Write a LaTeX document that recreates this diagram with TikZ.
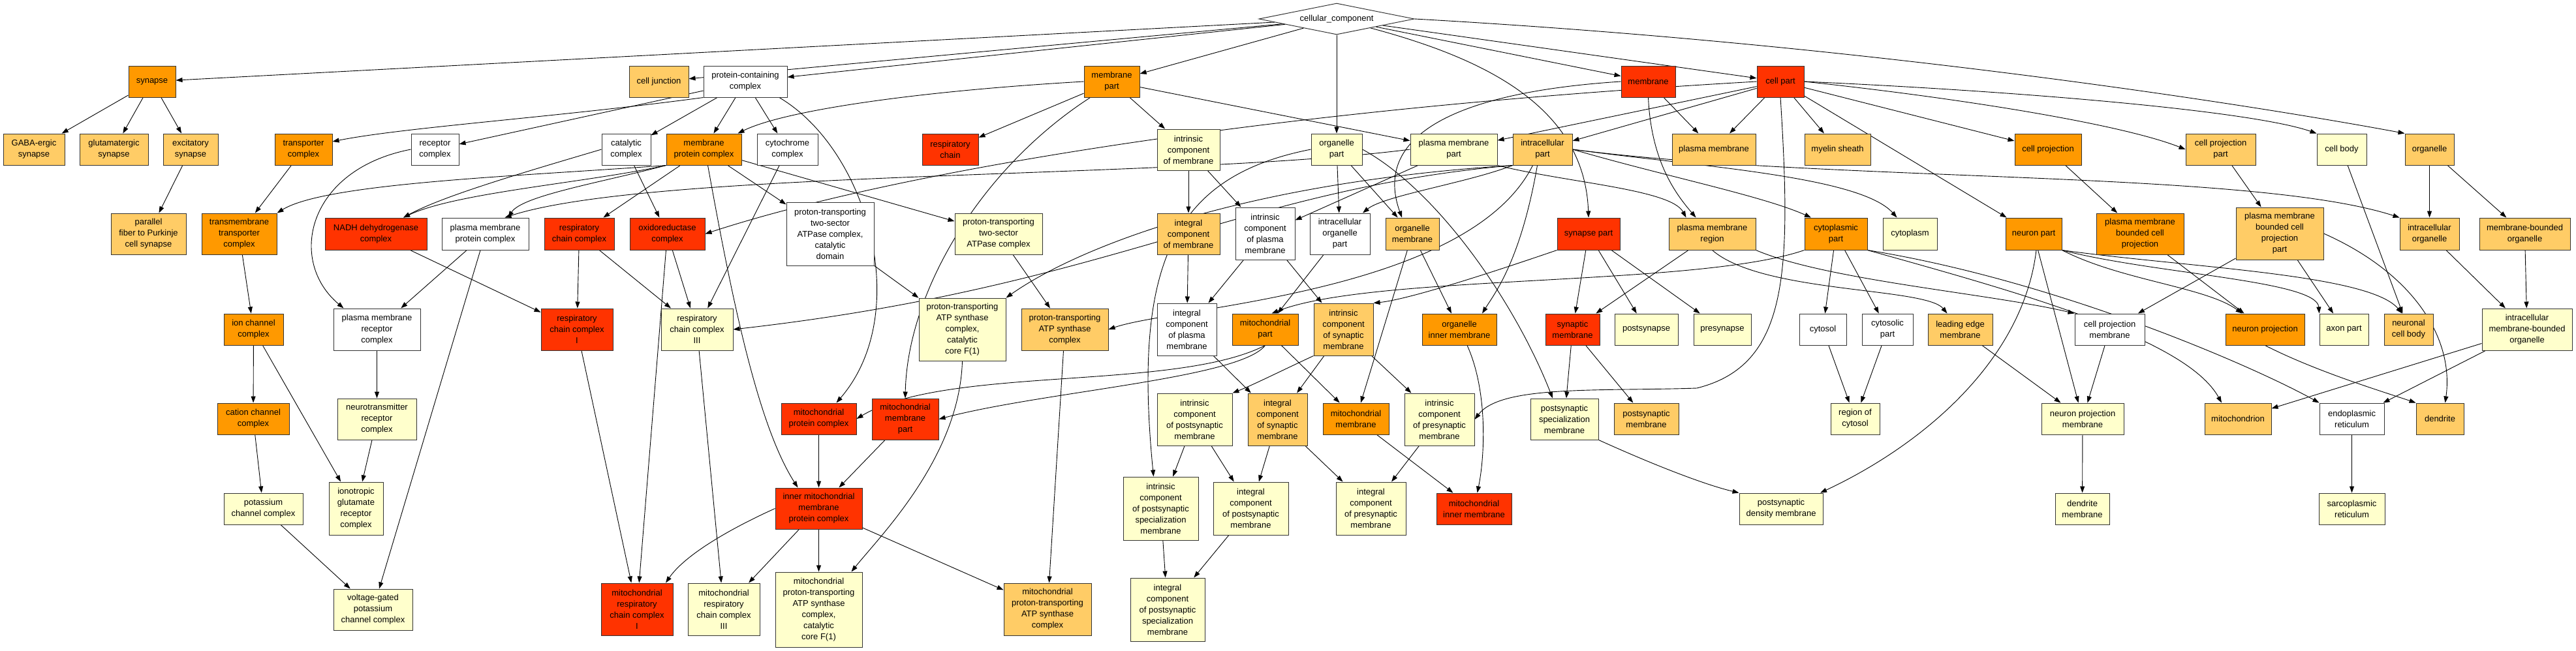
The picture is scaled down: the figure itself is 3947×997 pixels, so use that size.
\documentclass[tikz,border=0pt]{standalone}
\usepackage{fontspec}
\setmainfont{Liberation Sans}
\usetikzlibrary{arrows.meta,shapes.geometric}
\pgfdeclarelayer{bg}
\pgfsetlayers{bg,main}
\definecolor{cR}{HTML}{FF3300}
\definecolor{cO}{HTML}{FF9900}
\definecolor{cL}{HTML}{FFCC66}
\definecolor{cY}{HTML}{FFFFCC}
\definecolor{cW}{HTML}{FFFFFF}
\definecolor{bord}{HTML}{333333}
\tikzset{
  gobox/.style={draw=bord, line width=1pt, rectangle, inner sep=1pt, align=center, text=black},
  gedge/.style={draw=black, line width=0.9pt, -{Triangle[length=10pt,width=7pt]}}
}
\newcommand{\gn}[7]{\node[gobox,fill=#6,minimum width=#4pt,minimum height=#5pt] (#1) at (#2,-#3) {#7};}
\newcommand{\ed}[2]{\draw[gedge] (#1) -- (#2);}
\begin{document}
\begin{tikzpicture}[x=1pt,y=1pt,font=\fontsize{13pt}{17pt}\selectfont]
\useasboundingbox (0,0) rectangle (3947,-997);
\begin{pgfonlayer}{bg}
\fill[white] (0,0) rectangle (3947,-997);
\end{pgfonlayer}
\node[draw=bord, line width=1pt, fill=white, diamond, aspect=4.96, minimum width=238pt, minimum height=48pt, inner sep=0pt] (cc) at (2048,-29) {cellular\_component};
% level 1
\gn{synapse}{233}{125}{72}{48}{cO}{synapse}
\gn{celljunction}{1009.5}{125}{91}{48}{cL}{cell junction}
\gn{pcc}{1142}{125}{128}{48}{cW}{protein-containing\\complex}
\gn{membranepart}{1703.5}{125}{85}{48}{cO}{membrane\\part}
\gn{membrane}{2525.5}{125}{83}{48}{cR}{membrane}
\gn{cellpart}{2728}{125}{72}{48}{cR}{cell part}
% level 2
\gn{gaba}{52}{229}{94}{48}{cL}{GABA-ergic\\synapse}
\gn{glut}{174.5}{229}{105}{48}{cL}{glutamatergic\\synapse}
\gn{excit}{292}{229}{84}{48}{cL}{excitatory\\synapse}
\gn{transporter}{465}{229}{88}{48}{cO}{transporter\\complex}
\gn{receptor}{666.5}{229}{73}{48}{cW}{receptor\\complex}
\gn{catalytic}{959.5}{229}{75}{48}{cW}{catalytic\\complex}
\gn{mpc}{1078.5}{229}{115}{48}{cO}{membrane\\protein complex}
\gn{cytochrome}{1206.5}{229}{93}{48}{cW}{cytochrome\\complex}
\gn{respchain}{1456}{229}{86}{48}{cR}{respiratory\\chain}
\gn{icm}{1821}{229.5}{96}{63}{cY}{intrinsic\\component\\of membrane}
\gn{organellepart}{2048}{229}{78}{48}{cY}{organelle\\part}
\gn{pmpart}{2227.5}{229}{133}{48}{cY}{plasma membrane\\part}
\gn{intracellularpart}{2363.5}{229}{91}{48}{cL}{intracellular\\part}
\gn{plasmamembrane}{2626}{229}{128}{48}{cL}{plasma membrane}
\gn{myelin}{2815.5}{229}{101}{48}{cL}{myelin sheath}
\gn{cellprojection}{3138}{229}{102}{48}{cO}{cell projection}
\gn{cellprojpart}{3402.5}{229}{107}{48}{cL}{cell projection\\part}
\gn{cellbody}{3588}{229}{76}{48}{cY}{cell body}
\gn{organelle}{3722.5}{229}{75}{48}{cL}{organelle}
% level 3
\gn{parallel}{227.5}{358.5}{115}{63}{cL}{parallel\\fiber to Purkinje\\cell synapse}
\gn{tmtc}{366.5}{358.5}{115}{63}{cO}{transmembrane\\transporter\\complex}
\gn{nadh}{576}{358.5}{156}{49}{cR}{NADH dehydrogenase\\complex}
\gn{pmpc}{743.5}{358.5}{133}{49}{cW}{plasma membrane\\protein complex}
\gn{rcc}{887.5}{358.5}{107}{49}{cR}{respiratory\\chain complex}
\gn{oxido}{1022.5}{358.5}{115}{49}{cR}{oxidoreductase\\complex}
\gn{catdomain}{1272}{358.5}{134}{97}{cW}{proton-transporting\\two-sector\\ATPase complex,\\catalytic\\domain}
\gn{pt2s}{1530}{358.5}{134}{63}{cY}{proton-transporting\\two-sector\\ATPase complex}
\gn{intcm}{1821}{358.5}{96}{63}{cL}{integral\\component\\of membrane}
\gn{icpm}{1938.5}{358}{91}{80}{cW}{intrinsic\\component\\of plasma\\membrane}
\gn{iop}{2053}{358.5}{92}{63}{cW}{intracellular\\organelle\\part}
\gn{orgmem}{2164}{358.5}{82}{49}{cL}{organelle\\membrane}
\gn{synpart}{2434}{358.5}{96}{49}{cR}{synapse part}
\gn{pmregion}{2623.5}{358.5}{133}{49}{cL}{plasma membrane\\region}
\gn{cytoplasmicpart}{2813}{358.5}{96}{49}{cO}{cytoplasmic\\part}
\gn{cytoplasm}{2926.5}{358.5}{83}{49}{cY}{cytoplasm}
\gn{neuronpart}{3116}{358.5}{86}{49}{cO}{neuron part}
\gn{pmbcp}{3279}{358.5}{134}{63}{cO}{plasma membrane\\bounded cell\\projection}
\gn{pmbcppart}{3493}{358}{134}{80}{cL}{plasma membrane\\bounded cell\\projection\\part}
\gn{introrg}{3722.5}{358.5}{91}{49}{cL}{intracellular\\organelle}
\gn{mbo}{3868.5}{358.5}{139}{49}{cL}{membrane-bounded\\organelle}
% level 4
\gn{ionchannel}{388.5}{505}{91}{48}{cO}{ion channel\\complex}
\gn{pmrc}{577.5}{505}{133}{64}{cW}{plasma membrane\\receptor\\complex}
\gn{rcc1}{884}{505}{110}{64}{cR}{respiratory\\chain complex\\I}
\gn{rcc3}{1068}{505}{110}{64}{cY}{respiratory\\chain complex\\III}
\gn{f1core}{1474.5}{505}{133}{96}{cY}{proton-transporting\\ATP synthase\\complex,\\catalytic\\core F(1)}
\gn{ptatp}{1631.5}{505}{133}{64}{cL}{proton-transporting\\ATP synthase\\complex}
\gn{intcpm}{1818.5}{505}{91}{80}{cW}{integral\\component\\of plasma\\membrane}
\gn{mitopart}{1938.5}{505}{101}{48}{cO}{mitochondrial\\part}
\gn{icsm}{2058.5}{505}{91}{80}{cL}{intrinsic\\component\\of synaptic\\membrane}
\gn{oim}{2236}{505}{114}{48}{cO}{organelle\\inner membrane}
\gn{synmem}{2409.5}{505}{83}{48}{cR}{synaptic\\membrane}
\gn{postsynapse}{2522.5}{505}{97}{48}{cY}{postsynapse}
\gn{presynapse}{2639}{505}{88}{48}{cY}{presynapse}
\gn{cytosol}{2793}{505}{72}{48}{cW}{cytosol}
\gn{cytosolicpart}{2892}{505}{78}{48}{cW}{cytosolic\\part}
\gn{leadingedge}{3003.5}{505}{99}{48}{cL}{leading edge\\membrane}
\gn{cpm}{3232.5}{505}{107}{48}{cW}{cell projection\\membrane}
\gn{neuronproj}{3470.5}{505}{121}{48}{cO}{neuron projection}
\gn{axonpart}{3591.5}{505}{75}{48}{cY}{axon part}
\gn{ncb}{3690.5}{505}{75}{48}{cL}{neuronal\\cell body}
\gn{imbo}{3872}{505}{138}{64}{cY}{intracellular\\membrane-bounded\\organelle}
% level 5
\gn{cationchannel}{388}{642}{110}{48}{cO}{cation channel\\complex}
\gn{ntrc}{577.5}{642.5}{121}{63}{cY}{neurotransmitter\\receptor\\complex}
\gn{mitoprotcomplex}{1254.5}{642}{115}{48}{cR}{mitochondrial\\protein complex}
\gn{mitomempart}{1387}{642.5}{102}{63}{cR}{mitochondrial\\membrane\\part}
\gn{icpostm}{1830.5}{643}{115}{80}{cY}{intrinsic\\component\\of postsynaptic\\membrane}
\gn{intcsm}{1957.5}{643}{91}{80}{cL}{integral\\component\\of synaptic\\membrane}
\gn{mitomem}{2077.5}{642}{101}{48}{cO}{mitochondrial\\membrane}
\gn{icprem}{2205.5}{643}{107}{80}{cY}{intrinsic\\component\\of presynaptic\\membrane}
\gn{psm}{2397}{642.5}{104}{63}{cY}{postsynaptic\\specialization\\membrane}
\gn{postsynmem}{2522.5}{642}{99}{48}{cL}{postsynaptic\\membrane}
\gn{regioncytosol}{2842.5}{642}{75}{48}{cY}{region of\\cytosol}
\gn{npm}{3191}{642}{126}{48}{cY}{neuron projection\\membrane}
\gn{mitochondrion}{3429}{642}{102}{48}{cL}{mitochondrion}
\gn{er}{3603.5}{642}{99}{48}{cW}{endoplasmic\\reticulum}
\gn{dendrite}{3738.5}{642}{73}{48}{cL}{dendrite}
% level 6
\gn{potassium}{403.5}{780}{121}{48}{cY}{potassium\\channel complex}
\gn{ionotropic}{545.5}{779.5}{83}{81}{cY}{ionotropic\\glutamate\\receptor\\complex}
\gn{immpc}{1254.5}{779.5}{133}{63}{cR}{inner mitochondrial\\membrane\\protein complex}
\gn{icpssm}{1778.5}{779.5}{115}{97}{cY}{intrinsic\\component\\of postsynaptic\\specialization\\membrane}
\gn{intcpostm}{1916.5}{779.5}{115}{81}{cY}{integral\\component\\of postsynaptic\\membrane}
\gn{intcprem}{2100.5}{779.5}{107}{81}{cY}{integral\\component\\of presynaptic\\membrane}
\gn{mim}{2258.5}{780}{115}{48}{cR}{mitochondrial\\inner membrane}
\gn{psdm}{2729}{780}{128}{48}{cY}{postsynaptic\\density membrane}
\gn{dendritemem}{3190.5}{780}{83}{48}{cY}{dendrite\\membrane}
\gn{sarco}{3603.5}{780}{101}{48}{cY}{sarcoplasmic\\reticulum}
% level 7
\gn{vgkc}{571.5}{934.5}{121}{63}{cY}{voltage-gated\\potassium\\channel complex}
\gn{mrcc1}{976}{934}{110}{80}{cR}{mitochondrial\\respiratory\\chain complex\\I}
\gn{mrcc3}{1109}{934}{110}{80}{cY}{mitochondrial\\respiratory\\chain complex\\III}
\gn{mf1}{1254.5}{934.5}{133}{115}{cY}{mitochondrial\\proton-transporting\\ATP synthase\\complex,\\catalytic\\core F(1)}
\gn{mptatp}{1605}{934}{134}{80}{cL}{mitochondrial\\proton-transporting\\ATP synthase\\complex}
\gn{intcpssm}{1789}{934.5}{114}{97}{cY}{integral\\component\\of postsynaptic\\specialization\\membrane}

\begin{pgfonlayer}{bg}
% straight edges
\ed{cc}{synapse}\ed{cc}{celljunction}\ed{cc}{pcc}\ed{cc}{membranepart}\ed{cc}{organellepart}\ed{cc}{membrane}\ed{cc}{cellpart}
\ed{synapse}{gaba}\ed{synapse}{glut}\ed{synapse}{excit}\ed{excit}{parallel}
\ed{pcc}{receptor}\ed{pcc}{catalytic}\ed{pcc}{mpc}\ed{pcc}{cytochrome}
\ed{transporter}{tmtc}\ed{tmtc}{ionchannel}\ed{ionchannel}{cationchannel}\ed{ionchannel}{ionotropic}\ed{cationchannel}{potassium}\ed{potassium}{vgkc}\ed{pmrc}{ntrc}\ed{ntrc}{ionotropic}\ed{pmpc}{pmrc}\ed{pmpc}{vgkc}
\ed{nadh}{rcc1}\ed{mpc}{rcc}\ed{mpc}{pt2s}\ed{mpc}{catdomain}\ed{catalytic}{oxido}\ed{cytochrome}{rcc3}\ed{rcc}{rcc1}\ed{rcc}{rcc3}\ed{oxido}{rcc3}\ed{oxido}{mrcc1}
\ed{rcc1}{mrcc1}\ed{rcc3}{mrcc3}\ed{immpc}{mrcc3}\ed{immpc}{mf1}\ed{immpc}{mptatp}\ed{mitoprotcomplex}{immpc}\ed{mitomempart}{immpc}
\ed{membranepart}{respchain}\ed{membranepart}{icm}\ed{membranepart}{pmpart}
\ed{catdomain}{f1core}\ed{pt2s}{ptatp}\ed{ptatp}{mptatp}
\ed{icm}{intcm}\ed{icm}{icpm}\ed{intcm}{intcpm}\ed{icpm}{intcpm}\ed{icpm}{icsm}\ed{intcpm}{intcsm}\ed{pmpart}{icpm}
\ed{organellepart}{iop}\ed{organellepart}{orgmem}\ed{orgmem}{oim}\ed{orgmem}{mitomem}\ed{membrane}{plasmamembrane}
\ed{cellpart}{plasmamembrane}\ed{cellpart}{myelin}\ed{cellpart}{pmpart}\ed{cellpart}{intracellularpart}\ed{cellpart}{cellprojection}\ed{cellpart}{neuronpart}
\ed{pmregion}{synmem}\ed{synpart}{synmem}\ed{synpart}{postsynapse}\ed{synpart}{presynapse}\ed{synmem}{psm}\ed{synmem}{postsynmem}
\ed{mitopart}{mitomem}\ed{iop}{mitopart}\ed{icsm}{icprem}\ed{icsm}{intcsm}\ed{icpostm}{icpssm}\ed{icpostm}{intcpostm}\ed{intcsm}{intcpostm}\ed{intcsm}{intcprem}\ed{icprem}{intcprem}\ed{icpssm}{intcpssm}\ed{intcpostm}{intcpssm}\ed{mitomem}{mim}
\ed{cytoplasmicpart}{cytosol}\ed{cytoplasmicpart}{cytosolicpart}\ed{cytosol}{regioncytosol}\ed{cytosolicpart}{regioncytosol}
\ed{leadingedge}{npm}\ed{neuronpart}{npm}\ed{cpm}{npm}\ed{npm}{dendritemem}\ed{pmbcppart}{cpm}\ed{pmbcp}{neuronproj}\ed{pmbcppart}{axonpart}\ed{cellbody}{ncb}\ed{cellprojection}{pmbcp}\ed{cellprojpart}{pmbcppart}
\ed{organelle}{introrg}\ed{organelle}{mbo}\ed{introrg}{imbo}\ed{mbo}{imbo}\ed{imbo}{mitochondrion}\ed{imbo}{er}\ed{er}{sarco}
% curved edges
\draw[gedge] (pcc.south west) .. controls (850,-180) and (620,-195) .. ([yshift=12pt]transporter.east);
\draw[gedge] (cc) to[out=-15,in=92] (synpart.north);
\draw[gedge] (cc.east) .. controls (2900,-70) and (3500,-170) .. (organelle.north west);
\draw[gedge] ([xshift=52pt]pcc.south) .. controls (1330,-230) and (1400,-480) .. ([xshift=27pt]mitoprotcomplex.north);
\draw[gedge] (receptor.west) .. controls (470,-260) and (440,-400) .. ([xshift=-51pt]pmrc.north);
\draw[gedge] (mpc.south west) .. controls (900,-280) and (700,-295) .. ([xshift=42pt]nadh.north);
\draw[gedge] (catalytic.west) .. controls (800,-265) and (680,-300) .. ([xshift=42pt]nadh.north);
\draw[gedge] (mpc.south west) .. controls (920,-280) and (800,-300) .. ([xshift=35pt]pmpc.north);
\draw[gedge] (mpc.south west) .. controls (800,-270) and (500,-280) .. (tmtc.north east);
\draw[gedge] ([xshift=6pt]mpc.south) .. controls (1120,-450) and (1160,-650) .. ([xshift=-32pt]immpc.north);
\draw[gedge] (immpc.west) .. controls (1120,-810) and (1050,-850) .. ([xshift=44pt]mrcc1.north);
\draw[gedge] ([xshift=-33pt]membranepart.south) .. controls (1500,-260) and (1390,-450) .. (mitomempart.north);
\draw[gedge] (membranepart.west) .. controls (1400,-140) and (1200,-170) .. ([xshift=52pt]mpc.north);
\draw[gedge] (f1core.south) .. controls (1470,-700) and (1350,-820) .. ([xshift=50pt]mf1.north);
\draw[gedge] (organellepart.east) .. controls (2200,-290) and (2320,-460) .. ([xshift=-18pt]psm.north);
\draw[gedge] (organellepart.west) .. controls (1800,-270) and (1735,-400) .. ([xshift=-11pt]icpssm.north);
\draw[gedge] (intracellularpart.south west) .. controls (2250,-280) and (2120,-300) .. ([xshift=35pt]iop.north);
\draw[gedge] ([xshift=-8pt]intracellularpart.south) .. controls (2330,-400) and (2290,-450) .. ([xshift=35pt]oim.north);
\draw[gedge] (intracellularpart.east) .. controls (2550,-270) and (2700,-300) .. ([xshift=-38pt]cytoplasmicpart.north);
\draw[gedge] (intracellularpart.east) .. controls (2600,-255) and (2850,-270) .. ([xshift=-20pt]cytoplasm.north);
\draw[gedge] (intracellularpart.east) .. controls (2800,-280) and (3450,-260) .. (introrg.north west);
\draw[gedge] (intracellularpart.south west) .. controls (1900,-290) and (1700,-440) .. (rcc3.east);
\draw[gedge] (intracellularpart.south west) .. controls (1900,-280) and (1650,-380) .. (f1core.north east);
\draw[gedge] ([xshift=-15pt]intracellularpart.south) .. controls (2250,-450) and (1800,-470) .. (ptatp.east);
\draw[gedge] (membrane.west) .. controls (2250,-140) and (2100,-200) .. ([xshift=-16pt]orgmem.north);
\draw[gedge] (membrane.south) .. controls (2530,-250) and (2570,-300) .. ([xshift=-25pt]pmregion.north);
\draw[gedge] (cellpart.east) .. controls (3000,-150) and (3250,-190) .. (cellprojpart.west);
\draw[gedge] (cellpart.east) .. controls (3100,-140) and (3450,-170) .. (cellbody.north west);
\draw[gedge] (cellpart.west) .. controls (1900,-170) and (1350,-270) .. (oxido.east);
\draw[gedge] (cellpart.south) .. controls (2745,-420) and (2740,-560) .. (2600,-595) .. controls (2450,-600) and (2300,-590) .. (icprem.east);
\draw[gedge] (pmpart.south east) .. controls (2400,-280) and (2560,-290) .. ([xshift=-40pt]pmregion.north);
\draw[gedge] (pmpart.west) .. controls (1800,-275) and (1000,-260) .. ([xshift=30pt]pmpc.north);
\draw[gedge] (pmregion.south east) .. controls (2800,-430) and (3050,-450) .. (cpm.north west);
\draw[gedge] (pmregion.south) .. controls (2700,-450) and (2950,-440) .. ([xshift=-20pt]leadingedge.north);
\draw[gedge] (synpart.south west) .. controls (2250,-430) and (2150,-460) .. (icsm.north east);
\draw[gedge] (mitopart.south) .. controls (1900,-580) and (1600,-600) .. (mitomempart.east);
\draw[gedge] (mitopart.south) .. controls (1800,-600) and (1450,-560) .. (mitoprotcomplex.east);
\draw[gedge] (cytoplasmicpart.south west) .. controls (2600,-440) and (2100,-420) .. ([xshift=10pt]mitopart.north);
\draw[gedge] (icsm.south west) .. controls (1960,-570) and (1920,-590) .. (icpostm.north east);
\draw[gedge] ([xshift=12pt]oim.south) .. controls (2280,-600) and (2275,-700) .. ([xshift=5pt]mim.north);
\draw[gedge] (psm.south east) .. controls (2550,-720) and (2620,-745) .. (psdm.north west);
\draw[gedge] ([xshift=4pt]neuronpart.south) .. controls (3100,-550) and (2950,-680) .. ([xshift=60pt]psdm.north);
\draw[gedge] (cytoplasmicpart.south east) .. controls (3100,-450) and (3350,-520) .. ([xshift=-25pt]mitochondrion.north);
\draw[gedge] (cytoplasmicpart.south east) .. controls (3150,-430) and (3450,-560) .. (er.north west);
\draw[gedge] (neuronpart.south east) .. controls (3250,-430) and (3380,-440) .. ([xshift=-35pt]neuronproj.north);
\draw[gedge] (neuronpart.south east) .. controls (3300,-420) and (3550,-430) .. (axonpart.north west);
\draw[gedge] (neuronpart.south east) .. controls (3350,-410) and (3630,-420) .. ([xshift=-10pt]ncb.north);
\draw[gedge] (neuronproj.south) .. controls (3550,-570) and (3650,-600) .. (dendrite.north west);
\draw[gedge] (pmbcppart.east) .. controls (3700,-420) and (3760,-520) .. ([xshift=8pt]dendrite.north);
\end{pgfonlayer}
\end{tikzpicture}
\end{document}
